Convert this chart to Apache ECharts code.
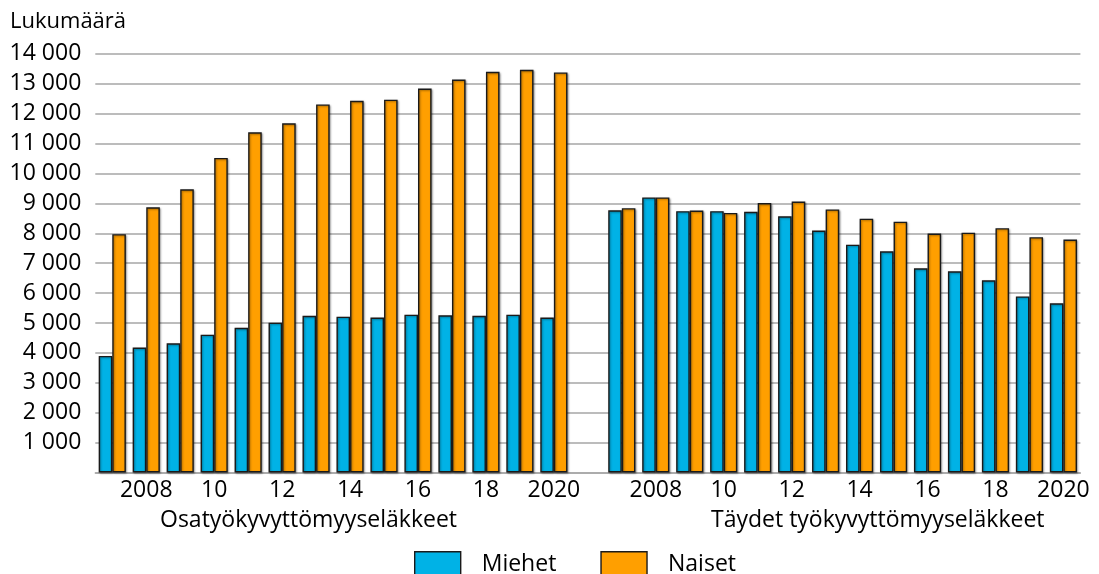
<!DOCTYPE html>
<html>
<head>
<meta charset="utf-8">
<script src="https://cdn.jsdelivr.net/npm/echarts@6/dist/echarts.min.js"></script>
<style>
  html, body { margin: 0; padding: 0; background: #fff; }
  #chart { width: 1099px; height: 574px; }
</style>
</head>
<body>
<div id="chart"></div>
<script>
// vuodet, kaksi ryhmää
const years = ['2007', '2008', '2009', '2010', '2011', '2012', '2013', '2014', '2015', '2016', '2017', '2018', '2019', '2020']
const yearLabels = ['', '2008', '', '10', '', '12', '', '14', '', '16', '', '18', '', '2020']
const groupNames = ['Osatyökyvyttömyyseläkkeet', 'Täydet työkyvyttömyyseläkkeet']
const seriesNames = ['Miehet', 'Naiset']

// osatyökyvyttömyyseläkkeet
const menPartial = [3900, 4180, 4320, 4610, 4840, 5010, 5240, 5210, 5180, 5280, 5260, 5240, 5280, 5180]
const womenPartial = [7970, 8870, 9470, 10520, 11380, 11680, 12310, 12430, 12470, 12840, 13140, 13400, 13470, 13380]
// täydet työkyvyttömyyseläkkeet
const menFull = [8770, 9200, 8740, 8740, 8720, 8570, 8090, 7620, 7400, 6830, 6730, 6430, 5890, 5660]
const womenFull = [8840, 9200, 8760, 8680, 9010, 9060, 8800, 8490, 8390, 7990, 8020, 8170, 7870, 7790]

const yTicks = { min: 0, max: 14000, step: 1000 }

// kategoriat: ryhmä 1, tyhjä väli, ryhmä 2
const categories = years.map(y => 'a' + y).concat(['gap'], years.map(y => 'b' + y))
const axisLabels = yearLabels.concat([''], yearLabels)
const menData = menPartial.concat([null], menFull)
const womenData = womenPartial.concat([null], womenFull)

const font = '"Open Sans", "Noto Sans", sans-serif'
const gridColor = '#a6a6a6'
const barStyle = color => ({
  color: color,
  borderColor: '#1a1a1a',
  borderWidth: 1.4,
  shadowColor: 'rgba(0,0,0,0.35)',
  shadowBlur: 2,
  shadowOffsetX: 1,
  shadowOffsetY: 1
})

const chart = echarts.init(document.getElementById('chart'))
chart.setOption({
  animation: false,
  textStyle: { fontFamily: font, color: '#000' },
  grid: {
    left: 95.3,
    right: 18.6,
    top: 53.9,
    bottom: 101.5,
    containLabel: false
  },
  legend: {
    data: seriesNames,
    left: 414,
    top: 551,
    padding: 0,
    itemWidth: 46,
    itemHeight: 25,
    itemGap: 44,
    icon: 'rect',
    itemStyle: { borderColor: '#1a1a1a', borderWidth: 1.4 },
    textStyle: { fontSize: 23, color: '#000', fontFamily: font, padding: [0, 0, 0, 16] }
  },
  graphic: [
    { type: 'text', left: 10, top: 11, style: { text: 'Lukumäärä', font: '22px ' + font, fill: '#000' } },
    { type: 'text', left: 160, top: 509, style: { text: groupNames[0], font: '23px ' + font, fill: '#000' } },
    { type: 'text', left: 711, top: 509, style: { text: groupNames[1], font: '23px ' + font, fill: '#000' } }
  ],
  xAxis: {
    type: 'category',
    data: categories,
    axisTick: { show: false },
    axisLine: { lineStyle: { color: gridColor, width: 1.5 } },
    axisLabel: {
      interval: 0,
      margin: 6,
      fontSize: 23,
      color: '#000',
      formatter: (v, i) => axisLabels[i]
    }
  },
  yAxis: {
    type: 'value',
    min: yTicks.min,
    max: yTicks.max,
    interval: yTicks.step,
    axisLine: { show: false },
    axisTick: { show: false },
    axisLabel: {
      margin: 14,
      fontSize: 23,
      color: '#000',
      formatter: v => v === 0 ? '' : String(v).replace(/\B(?=(\d{3})+(?!\d))/g, ' ')
    },
    splitLine: { lineStyle: { color: gridColor, width: 1.5 } }
  },
  series: [
    {
      name: seriesNames[0],
      type: 'bar',
      barGap: '0%',
      barCategoryGap: '20%',
      itemStyle: barStyle('#00b2e6'),
      data: menData
    },
    {
      name: seriesNames[1],
      type: 'bar',
      barGap: '0%',
      barCategoryGap: '20%',
      itemStyle: barStyle('#ff9f00'),
      data: womenData
    }
  ]
})
</script>
</body>
</html>
